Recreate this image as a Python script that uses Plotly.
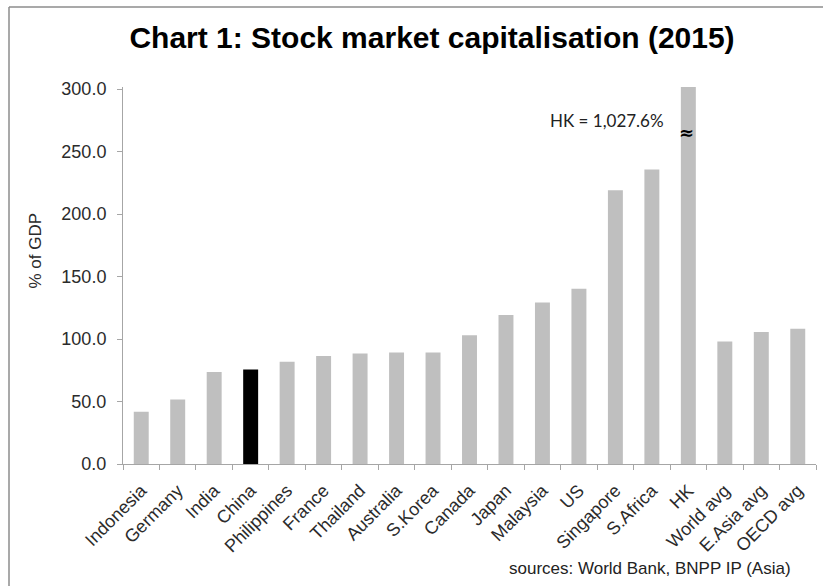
import plotly.graph_objects as go

categories = ["Indonesia", "Germany", "India", "China", "Philippines", "France", "Thailand",
              "Australia", "S.Korea", "Canada", "Japan", "Malaysia", "US", "Singapore",
              "S.Africa", "HK", "World avg", "E.Asia avg", "OECD avg"]
values = [41.8, 51.7, 73.6, 75.7, 81.8, 86.4, 88.5, 89.3, 89.3, 103.0, 119.3, 129.3,
          140.3, 219.0, 235.7, 1027.6, 98.1, 105.6, 108.3]
highlight = "China"
y_ticks = [0, 50, 100, 150, 200, 250, 300]

GREY = "#bfbfbf"
colors = ["#000000" if c == highlight else GREY for c in categories]

W, H = 823, 586
L, R, T, B = 123, 7, 87, 122
pw, ph = W - L - R, H - T - B

fig = go.Figure(go.Bar(x=categories, y=values, marker=dict(color=colors, line=dict(width=0)),
                       width=0.41))

fig.update_layout(
    width=W, height=H,
    margin=dict(l=L, r=R, t=T, b=B),
    paper_bgcolor="white", plot_bgcolor="white",
    showlegend=False,
    font=dict(family="Liberation Sans, Arial, sans-serif", color="#333333"),
    title=dict(text="<b>Chart 1: Stock market capitalisation (2015)</b>",
               x=432 / W, xanchor="center", y=1 - 37 / H, yanchor="middle",
               font=dict(size=30, color="#000000", family="Liberation Sans, Arial, sans-serif")),
    xaxis=dict(showline=True, linecolor="#a6a6a6", linewidth=1, ticks="outside",
               tickson="boundaries", ticklen=5, tickcolor="#a6a6a6", tickangle=-45,
               tickfont=dict(size=18, color="#2b2b2b"), showgrid=False,
               ticklabelstandoff=8),
    yaxis=dict(range=[0, 300 * ph / 375], tickvals=y_ticks, tickformat=".1f",
               showline=True, linecolor="#a6a6a6", linewidth=1, ticks="outside",
               ticklen=5, tickcolor="#a6a6a6", showgrid=False, zeroline=False,
               tickfont=dict(size=18, color="#2b2b2b"), ticklabelstandoff=7),
)

# y-axis title
fig.add_annotation(xref="paper", yref="paper", x=(34.5 - L) / pw, y=(T + ph - 251) / ph,
                   text="% of GDP", textangle=-90, showarrow=False,
                   xanchor="center", yanchor="middle",
                   font=dict(size=17, color="#2b2b2b"))

fig.add_annotation(x="HK", y=275, text="HK = 1,027.6%", showarrow=False, xanchor="right",
                   yanchor="middle", xshift=-22,
                   font=dict(family="Lato, Open Sans, sans-serif", size=17, color="#222222"))
fig.add_annotation(x="HK", y=265.5, text="<b>≈</b>", showarrow=False, xanchor="center",
                   yanchor="middle", xshift=-2,
                   font=dict(family="DejaVu Sans, sans-serif", size=18, color="#000000"))
fig.add_annotation(xref="paper", yref="paper", x=(793 - L) / pw, y=-(568 - (T + ph)) / ph,
                   text="sources: World Bank, BNPP IP (Asia)", showarrow=False,
                   xanchor="right", yanchor="middle",
                   font=dict(size=17, color="#222222"))

# chart frame (left and top edges visible)
fig.add_shape(type="line", xref="paper", yref="paper",
              x0=(9 - L) / pw, x1=(9 - L) / pw, y0=(T + ph - 7) / ph, y1=-(H + 5 - T - ph) / ph,
              line=dict(color="#8c8c8c", width=1.5))
fig.add_shape(type="line", xref="paper", yref="paper",
              x0=(9 - L) / pw, x1=(W + 5 - L) / pw, y0=(T + ph - 7) / ph, y1=(T + ph - 7) / ph,
              line=dict(color="#8c8c8c", width=1.5))

fig.write_html("out.html")
